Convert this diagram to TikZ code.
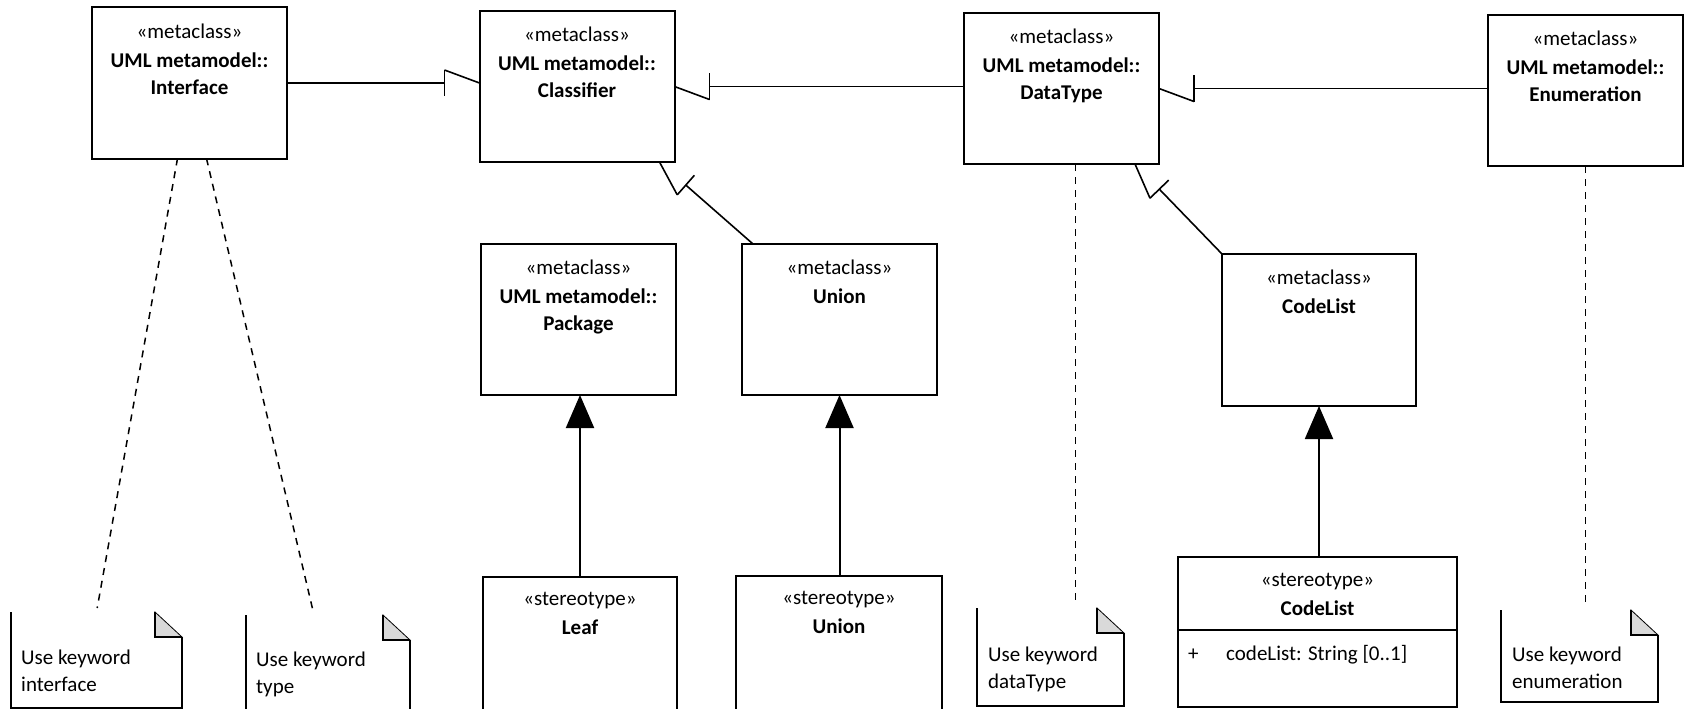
\documentclass[tikz,border=0pt]{standalone}
\usepackage{fontspec}
\setmainfont{Carlito}
\usetikzlibrary{arrows.meta,calc,positioning}

\tikzset{
  metabox/.style={draw, line width=2pt, minimum width=195pt, minimum height=151pt, inner sep=0pt, outer sep=0pt},
  boxtext/.style={anchor=north, align=center, inner sep=0pt, font=\fontsize{21}{27}\selectfont},
  notebox/.style={minimum height=96pt, inner sep=0pt, outer sep=0pt},
  notetext/.style={anchor=north west, align=left, inner sep=0pt, font=\fontsize{21}{27}\selectfont},
  genline/.style={line width=1.6pt},
  extline/.style={line width=2pt, -{Triangle[length=33pt,width=28pt]}},
  noteline/.style={line width=1.5pt, dash pattern=on 7pt off 6pt, shorten >=4pt},
}

% note outline with folded corner (no top edge, as in the original)
\newcommand{\umlnote}[1]{%
  \filldraw[fill=black!15, line width=0.8pt] ([xshift=-27pt]#1.north east) -- ([yshift=-25pt]#1.north east) -- ([xshift=-27pt,yshift=-25pt]#1.north east) -- cycle;
  \draw[line width=2pt] ([xshift=-27pt]#1.north east) -- ([xshift=-27pt,yshift=-25pt]#1.north east) -- ([yshift=-25pt]#1.north east);
  \draw[line width=2pt] (#1.north west) -- (#1.south west) -- (#1.south east) -- ([yshift=-25pt]#1.north east);
}

% generalization drawn as bar plus one slanted side
\newcommand{\halfgen}[2]{%
  \path ($(#2)!35pt!(#1)$) coordinate (gb);
  \draw[genline] (#1) -- (gb);
  \draw[genline] ($(gb)!13pt!90:(#2)$) -- ($(gb)!13pt!-90:(#2)$);
  \draw[genline] ($(gb)!13pt!90:(#2)$) -- (#2);
}

\begin{document}
\begin{tikzpicture}[x=1pt, y=-1pt]
\useasboundingbox (0,0) rectangle (1687,709);
\clip (0,0) rectangle (1687,709);

% top row
\node[metabox] (iface) at (189.5,83) {};
\node[boxtext] (ifacet) at ([yshift=-16pt]iface.north) {«metaclass»\\[2pt]\textbf{UML metamodel::}\\\textbf{Interface}};
\node[metabox] (cls) at (577,86.5) {};
\node[boxtext] (clst) at ([yshift=-16pt]cls.north) {«metaclass»\\[2pt]\textbf{UML metamodel::}\\\textbf{Classifier}};
\node[metabox] (dtype) at (1061.5,88.5) {};
\node[boxtext] (dtypet) at ([yshift=-16pt]dtype.north) {«metaclass»\\[2pt]\textbf{UML metamodel::}\\\textbf{DataType}};
\node[metabox] (enum) at (1585.5,90.5) {};
\node[boxtext] (enumt) at ([yshift=-16pt]enum.north) {«metaclass»\\[2pt]\textbf{UML metamodel::}\\\textbf{Enumeration}};

% middle row
\node[metabox] (pkg) at (578.5,319.5) {};
\node[boxtext] (pkgt) at ([yshift=-16pt]pkg.north) {«metaclass»\\[2pt]\textbf{UML metamodel::}\\\textbf{Package}};
\node[metabox] (unionm) at (839.5,319.5) {};
\node[boxtext] (unionmt) at ([yshift=-16pt]unionm.north) {«metaclass»\\[2pt]\textbf{Union}};
\node[metabox, minimum width=194pt, minimum height=152pt] (clm) at (1319,330) {};
\node[boxtext] (clmt) at ([yshift=-16pt]clm.north) {«metaclass»\\[2pt]\textbf{CodeList}};

% stereotypes
\node[metabox, minimum width=194pt] (leaf) at (580,652) {};
\node[boxtext] (leaft) at ([yshift=-16pt]leaf.north) {«stereotype»\\[2pt]\textbf{Leaf}};
\node[metabox, minimum width=206pt] (unions) at (839,651) {};
\node[boxtext] (unionst) at ([yshift=-16pt]unions.north) {«stereotype»\\[2pt]\textbf{Union}};
\node[metabox, minimum width=279pt, minimum height=150pt] (cls2) at (1317.5,632) {};
\node[boxtext] (cls2t) at ([yshift=-16pt]cls2.north) {«stereotype»\\[2pt]\textbf{CodeList}};
\draw[line width=2pt] ([yshift=-73pt]cls2.north west) -- ([yshift=-73pt]cls2.north east);
\node[anchor=west, inner sep=0pt, font=\fontsize{21}{27}\selectfont] (cls2p) at ([xshift=10pt,yshift=-98pt]cls2.north west) {+};
\node[anchor=west, inner sep=0pt, font=\fontsize{21}{27}\selectfont] (cls2a) at ([xshift=48pt,yshift=-98pt]cls2.north west) {codeList: String [0..1]};

% notes
\node[notebox, minimum width=171pt] (n1) at (96.5,660) {};
\umlnote{n1}
\node[notetext] (n1t) at ([xshift=10pt,yshift=-38pt]n1.north west) {Use keyword\\interface};
\node[notebox, minimum width=164pt, minimum height=130pt] (n2) at (328,680) {};
\umlnote{n2}
\node[notetext] (n2t) at ([xshift=10pt,yshift=-37pt]n2.north west) {Use keyword\\type};
\node[notebox, minimum width=147pt, minimum height=98pt] (n3) at (1050.5,657) {};
\umlnote{n3}
\node[notetext] (n3t) at ([xshift=11pt,yshift=-39pt]n3.north west) {Use keyword\\dataType};
\node[notebox, minimum width=157pt, minimum height=92pt] (n4) at (1579.5,656) {};
\umlnote{n4}
\node[notetext] (n4t) at ([xshift=11pt,yshift=-37pt]n4.north west) {Use keyword\\enumeration};

% generalizations
\halfgen{iface.east}{iface.east -| cls.west}
\halfgen{cls.east -| dtype.west}{cls.east}
\halfgen{dtype.east -| enum.west}{dtype.east}
\coordinate (ucorner) at ([xshift=11pt]unionm.north west);
\coordinate (ctip) at ([xshift=-15pt]cls.south east);
\halfgen{ucorner}{ctip}
\coordinate (dtip) at ([xshift=-24pt]dtype.south east);
\halfgen{clm.north west}{dtip}

% extensions
\draw[extline] (leaf.north) -- (leaf.north |- pkg.south);
\draw[extline] (unions.north -| unionm.south) -- (unionm.south);
\draw[extline] (cls2.north -| clm.south) -- (clm.south);

% note links
\draw[noteline] ([xshift=-12pt]iface.south) -- (n1.north);
\draw[noteline] ([xshift=17pt]iface.south) -- ([xshift=-14pt]n2.north);
\draw[noteline] ([xshift=14pt]dtype.south) -- ([xshift=25pt]n3.north);
\draw[noteline] (enum.south) -- (enum.south |- n4.north);
\end{tikzpicture}
\end{document}
